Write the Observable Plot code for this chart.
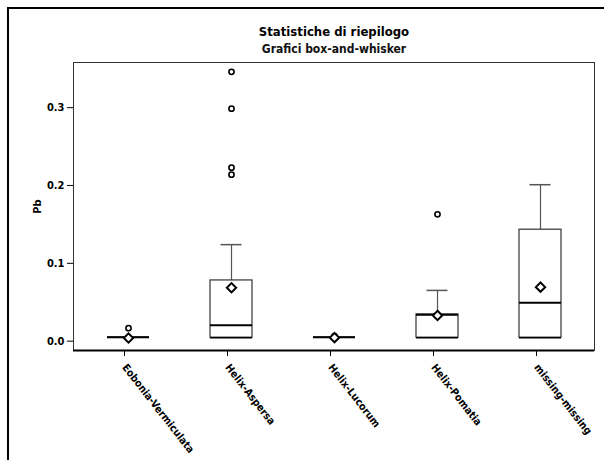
<!DOCTYPE html>
<html>
<head>
<meta charset="utf-8">
<script src="https://cdn.jsdelivr.net/npm/d3@7"></script>
<script src="https://cdn.jsdelivr.net/npm/@observablehq/plot@0.6"></script>
<style>
  html, body { margin: 0; padding: 0; background: #fff; overflow: hidden; }
  #wrap { position: relative; width: 604px; height: 460px; }
  #border { position: absolute; left: 7px; top: 7px; width: 640px; height: 500px;
            border-left: 2px solid #000; border-top: 2px solid #000; pointer-events: none; }
  #wrap svg { position: absolute; left: 0; top: 0; }
</style>
</head>
<body>
<div id="wrap"><div id="border"></div></div>
<script>
const categories = ["Eobonia-Vermiculata", "Helix-Aspersa", "Helix-Lucorum", "Helix-Pomatia", "missing-missing"];
const q1 =       [0.005, 0.0045, 0.005, 0.0045, 0.0045];
const median =   [0.005, 0.0205, 0.005, 0.034, 0.0494];
const q3 =       [0.005, 0.078,  0.005, 0.0343, 0.1432];
const whiskerHi =[0.005, 0.124,  0.005, 0.0652, 0.201];
const means =    [0.004, 0.0686, 0.0045, 0.033, 0.0694];
const outlierCat = ["Eobonia-Vermiculata", "Helix-Aspersa", "Helix-Aspersa", "Helix-Aspersa", "Helix-Aspersa", "Helix-Lucorum", "Helix-Pomatia"];
const outlierVal = [0.0167, 0.346, 0.2987, 0.2229, 0.2139, 0.0065, 0.1629];
const yTicks = [0, 0.1, 0.2, 0.3];
const titleText = "Statistiche di riepilogo";
const subtitleText = "Grafici box-and-whisker";
const yLabel = "Pb";

const stats = categories.map((c, i) => ({cat: c, q1: q1[i], med: median[i], q3: q3[i], hi: whiskerHi[i], mean: means[i]}));
const boxes = stats.filter(d => d.q3 > d.q1);
const whisk = stats.filter(d => d.hi > d.q3);
const outliers = outlierCat.map((c, i) => ({cat: c, v: outlierVal[i]}));

const FONT = "'Liberation Sans Narrow', 'DejaVu Sans Condensed', 'Liberation Sans', sans-serif";

const chart = Plot.plot({
  width: 604,
  height: 460,
  marginLeft: 73,
  marginRight: 10,
  marginTop: 62,
  marginBottom: 110,
  style: {fontFamily: FONT, fontSize: "11px", fontWeight: "bold", color: "#000", background: "transparent"},
  x: {type: "band", domain: categories, paddingInner: 0.593, paddingOuter: 0.32, label: null},
  y: {domain: [-0.012, 0.358], label: null},
  marks: [
    Plot.frame({stroke: "#333", strokeWidth: 1}),
    Plot.ruleX(whisk, {x: "cat", y1: "q3", y2: "hi", stroke: "#555", strokeWidth: 1.2}),
    Plot.tickY(whisk, {x: "cat", y: "hi", stroke: "#555", strokeWidth: 1.5, insetLeft: 10.5, insetRight: 10.5}),
    Plot.barY(boxes, {x: "cat", y1: "q1", y2: "q3", fill: "white", stroke: "#333", strokeWidth: 1.2}),
    Plot.tickY(stats, {x: "cat", y: "med", stroke: "#000", strokeWidth: 2}),
    Plot.tickY(stats, {x: "cat", y: "q1", stroke: "#000", strokeWidth: 1.5}),
    Plot.dot(outliers, {x: "cat", y: "v", r: 2.6, fill: "white", stroke: "#000", strokeWidth: 1.6}),
    Plot.dot(stats, {x: "cat", y: "mean", symbol: "diamond2", r: 4.2, fill: "white", stroke: "#000", strokeWidth: 2}),
    Plot.ruleY([-0.012], {stroke: "#000", strokeWidth: 2}),
    Plot.axisY({ticks: yTicks, tickFormat: d3.format(".1f"), tickSize: 6, tickPadding: 3, fontSize: 11,
                label: yLabel, labelAnchor: "center", labelArrow: "none", labelOffset: 40}),
    Plot.axisX({tickSize: 6, tickRotate: 52, textAnchor: "start", tickPadding: 9, dx: -4, fontSize: 10.5, label: null}),
    Plot.text([titleText], {frameAnchor: "top", dy: -27, lineAnchor: "bottom", fontSize: 13, fontWeight: "bold", fill: "#000"}),
    Plot.text([subtitleText], {frameAnchor: "top", dy: -10, lineAnchor: "bottom", fontSize: 12, fontWeight: "bold", fill: "#111"})
  ]
});
document.getElementById("wrap").appendChild(chart);
</script>
</body>
</html>
